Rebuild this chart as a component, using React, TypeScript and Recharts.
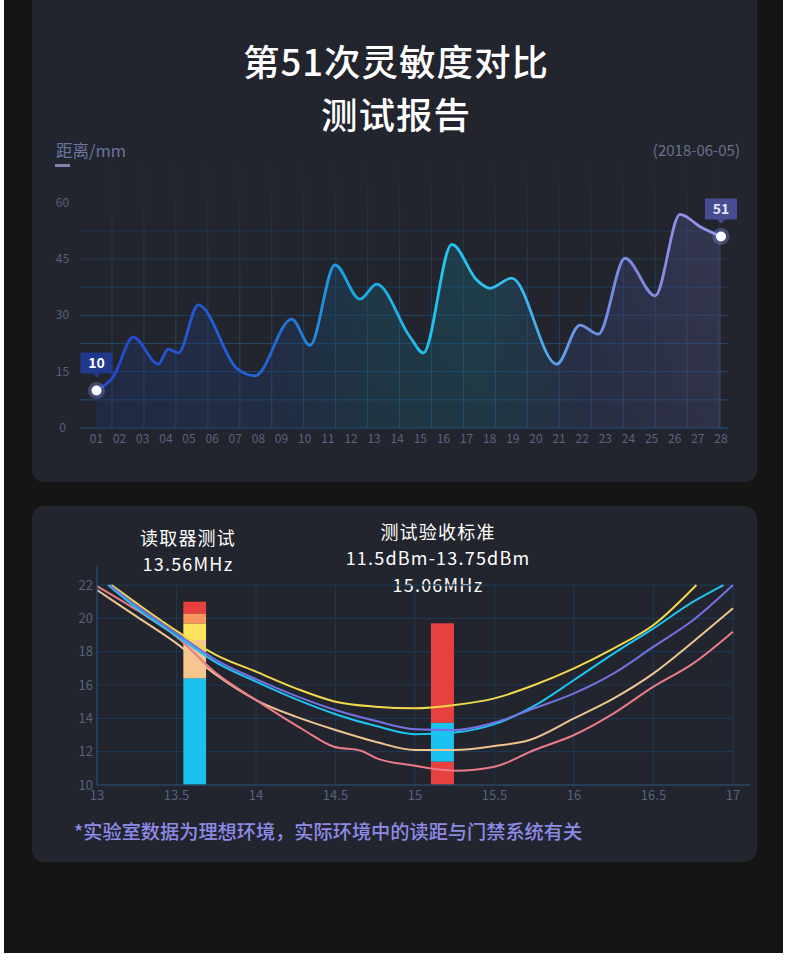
import React from 'react';
import {
  ComposedChart,
  Area,
  Line,
  XAxis,
  YAxis,
  CartesianGrid,
  ReferenceDot,
  ReferenceArea,
  ReferenceLine,
} from 'recharts';

// ---------- Top chart data (distance per test) ----------
const dayTicks = [1, 2, 3, 4, 5, 6, 7, 8, 9, 10, 11, 12, 13, 14, 15, 16, 17, 18, 19, 20, 21, 22, 23, 24, 25, 26, 27, 28];
const dayLabels = ['01', '02', '03', '04', '05', '06', '07', '08', '09', '10', '11', '12', '13', '14', '15', '16', '17', '18', '19', '20', '21', '22', '23', '24', '25', '26', '27', '28'];
const distanceDay = [1, 1.73, 2.59, 3.67, 4.1, 4.54, 5.4, 7.06, 7.85, 9.44, 10.23, 11.31, 12.39, 13.11, 14.55, 15.13, 16.36, 17.44, 18.01, 18.95, 20.9, 21.9, 22.7, 23.85, 25.15, 26.23, 27.1, 28];
const distanceMm = [10, 13.7, 24.2, 17, 21, 20, 32.8, 15.9, 13.9, 29, 22, 43.4, 34.3, 38.3, 24.3, 20, 48.9, 39.4, 37.2, 39.9, 17, 27.4, 25, 45.2, 35.2, 56.9, 53.6, 51];
const distanceTicks = [0, 15, 30, 45, 60];
const distanceGridLevels = [0, 7.5, 15, 22.5, 30, 37.5, 45, 52.5];
const distanceMax = 72;
const firstPoint = { day: 1, mm: 10, label: '10' };
const lastPoint = { day: 28, mm: 51, label: '51' };

const distanceData = distanceDay.map((d, i) => ({ day: d, mm: distanceMm[i] }));

// ---------- Bottom chart data (sensitivity curves) ----------
const freqTicks = [13, 13.5, 14, 14.5, 15, 15.5, 16, 16.5, 17];
const dbTicks = [10, 12, 14, 16, 18, 20, 22];

const yellowX = [13.09, 13.25, 13.5, 13.75, 14, 14.25, 14.5, 14.75, 15, 15.25, 15.5, 15.75, 16, 16.25, 16.5, 16.77];
const yellowY = [22.0, 20.9, 19.25, 17.8, 16.8, 15.8, 15.0, 14.7, 14.6, 14.8, 15.2, 16.0, 17.0, 18.2, 19.6, 22.0];

const cyanX = [13.07, 13.25, 13.5, 13.75, 14, 14.25, 14.5, 14.75, 15, 15.25, 15.5, 15.75, 16, 16.25, 16.5, 16.75, 16.94];
const cyanY = [22.0, 20.6, 18.95, 17.35, 16.2, 15.15, 14.25, 13.55, 13.05, 13.15, 13.65, 14.75, 16.3, 17.9, 19.4, 21.0, 22.0];

const purpleX = [13.08, 13.25, 13.5, 13.75, 14, 14.25, 14.5, 14.75, 15, 15.25, 15.5, 15.75, 16, 16.25, 16.5, 16.75, 17];
const purpleY = [22.0, 20.75, 19.1, 17.5, 16.35, 15.35, 14.5, 13.85, 13.35, 13.3, 13.75, 14.6, 15.5, 16.7, 18.3, 19.9, 22.0];

const peachX = [13, 13.25, 13.5, 13.75, 14, 14.25, 14.5, 14.75, 15, 15.25, 15.5, 15.72, 16, 16.25, 16.5, 16.75, 17];
const peachY = [21.7, 20.1, 18.5, 16.6, 15.1, 14.1, 13.3, 12.6, 12.1, 12.1, 12.34, 12.7, 14.0, 15.2, 16.7, 18.6, 20.6];

const pinkX = [13, 13.25, 13.5, 13.75, 14, 14.3, 14.49, 14.66, 14.76, 14.97, 15.25, 15.5, 15.75, 16, 16.25, 16.5, 16.75, 17];
const pinkY = [21.94, 20.5, 18.9, 16.7, 15.1, 13.3, 12.3, 12.06, 11.6, 11.2, 10.86, 11.1, 12.1, 13.0, 14.3, 15.9, 17.3, 19.2];

const readerBarX = [13.543, 13.686];
const readerBarEdges = [10, 16.4, 18.7, 19.7, 20.3, 21.0];
const readerBarColors = ['#1cc2ef', '#f6c690', '#fde35c', '#f7955d', '#e8403e'];

const acceptBarX = [15.1, 15.245];
const acceptBarEdges = [10, 11.4, 13.74, 19.7];
const acceptBarColors = ['#e8403e', '#1cc2ef', '#e8403e'];

const curveSeries = [
  { name: 'yellow', color: '#f2d94b', xs: yellowX, ys: yellowY },
  { name: 'peach', color: '#efc48e', xs: peachX, ys: peachY },
  { name: 'pink', color: '#ec7b8a', xs: pinkX, ys: pinkY },
  { name: 'cyan', color: '#1ec3ef', xs: cyanX, ys: cyanY },
  { name: 'purple', color: '#7272e2', xs: purpleX, ys: purpleY },
];

const FONT = '"Noto Sans CJK SC", "Noto Sans", sans-serif';

const CenteredYTick = (props: any) => {
  const { x, y, payload } = props;
  return (
    <text x={x} y={y} dy={4} textAnchor="middle" fill="#586180" fontSize={12} fontFamily={FONT}>
      {payload.value}
    </text>
  );
};

const ValueTag = (props: any) => {
  const { viewBox, text, fill, color } = props;
  const cx = viewBox.x + viewBox.width / 2;
  const cy = viewBox.y + viewBox.height / 2;
  const w = 32;
  const h = 21;
  const bottom = cy - 17;
  return (
    <g>
      <rect x={cx - w / 2} y={bottom - h} width={w} height={h} fill={fill} rx={1} />
      <path d={`M${cx - 4},${bottom} L${cx + 4},${bottom} L${cx},${bottom + 4} Z`} fill={fill} />
      <text x={cx} y={bottom - h / 2 + 5} textAnchor="middle" fill={color} fontSize={14} fontWeight={600} fontFamily={FONT}>
        {text}
      </text>
    </g>
  );
};

const GlowDot = (props: any) => {
  const { cx, cy } = props;
  return (
    <g>
      <circle cx={cx} cy={cy} r={8.5} fill="#8fa0ff" fillOpacity={0.3} />
      <circle cx={cx} cy={cy} r={5} fill="#ffffff" />
    </g>
  );
};

function DistanceChart() {
  return (
    <ComposedChart
      width={790}
      height={320}
      data={distanceData}
      margin={{ top: 17.6, right: 62, bottom: 2, left: 50 }}
    >
      <defs>
        <linearGradient id="gridFade" gradientUnits="userSpaceOnUse" x1="0" y1="20" x2="0" y2="288">
          <stop offset="0" stopColor="#1d4b74" stopOpacity={0} />
          <stop offset="0.3" stopColor="#1d4b74" stopOpacity={0.45} />
          <stop offset="1" stopColor="#1f5584" stopOpacity={0.95} />
        </linearGradient>
        <linearGradient id="lineGrad" x1="0" y1="0" x2="1" y2="0">
          <stop offset="0" stopColor="#2446d2" />
          <stop offset="0.28" stopColor="#2467d8" />
          <stop offset="0.4" stopColor="#1aa6e2" />
          <stop offset="0.55" stopColor="#22c4f0" />
          <stop offset="0.68" stopColor="#38baee" />
          <stop offset="0.76" stopColor="#6898e6" />
          <stop offset="0.86" stopColor="#7d86e0" />
          <stop offset="1" stopColor="#9d97ee" />
        </linearGradient>
        <linearGradient id="fillGrad" x1="0" y1="0" x2="1" y2="0">
          <stop offset="0" stopColor="#2140a8" stopOpacity={0.4} />
          <stop offset="0.3" stopColor="#1d4fa6" stopOpacity={0.38} />
          <stop offset="0.45" stopColor="#14799e" stopOpacity={0.42} />
          <stop offset="0.62" stopColor="#148aa8" stopOpacity={0.42} />
          <stop offset="0.78" stopColor="#40509c" stopOpacity={0.45} />
          <stop offset="1" stopColor="#6564ad" stopOpacity={0.45} />
        </linearGradient>
        <linearGradient id="shadeGrad" x1="0" y1="0" x2="0" y2="1">
          <stop offset="0" stopColor="#22252d" stopOpacity={0} />
          <stop offset="1" stopColor="#22252d" stopOpacity={0.45} />
        </linearGradient>
      </defs>
      <CartesianGrid
        stroke="url(#gridFade)"
        strokeWidth={1}
        verticalCoordinatesGenerator={({ offset }: any) =>
          Array.from({ length: 20 }, (_, i) => offset.left + 32 + i * 31.95)
        }
        horizontalCoordinatesGenerator={({ offset }: any) =>
          distanceGridLevels.map((v) => offset.top + offset.height * (1 - v / distanceMax))
        }
      />
      <XAxis
        dataKey="day"
        type="number"
        domain={[1, 28]}
        ticks={dayTicks}
        interval={0}
        tickFormatter={(v: number) => dayLabels[v - 1]}
        padding={{ left: 16.5, right: 7 }}
        axisLine={false}
        tickLine={false}
        tickSize={0}
        tickMargin={6}
        height={30}
        tick={{ fill: '#5a6482', fontSize: 12, fontFamily: FONT }}
      />
      <YAxis
        type="number"
        domain={[0, distanceMax]}
        ticks={distanceTicks}
        interval={0}
        axisLine={false}
        tickLine={false}
        tickSize={0}
        tickMargin={17.5}
        width={30}
        tick={<CenteredYTick />}
      />
      <Area type="monotone" dataKey="mm" stroke="none" fill="url(#fillGrad)" isAnimationActive={false} activeDot={false} />
      <Area type="monotone" dataKey="mm" stroke="none" fill="url(#shadeGrad)" isAnimationActive={false} activeDot={false} />
      <Line type="monotone" dataKey="mm" stroke="url(#lineGrad)" strokeWidth={2.8} dot={false} activeDot={false} isAnimationActive={false} />
      <ReferenceDot
        x={firstPoint.day}
        y={firstPoint.mm}
        r={5}
        shape={(p: any) => <GlowDot {...p} />}
        label={<ValueTag text={firstPoint.label} fill="#20398c" color="#ffffff" />}
      />
      <ReferenceDot
        x={lastPoint.day}
        y={lastPoint.mm}
        r={5}
        shape={(p: any) => <GlowDot {...p} />}
        label={<ValueTag text={lastPoint.label} fill="#474d90" color="#e4e4f4" />}
      />
    </ComposedChart>
  );
}

function SensitivityChart() {
  const gridColor = '#1d3753';
  const readerSegs = readerBarColors.map((c, i) => ({ y1: readerBarEdges[i], y2: readerBarEdges[i + 1], color: c }));
  const acceptSegs = acceptBarColors.map((c, i) => ({ y1: acceptBarEdges[i], y2: acceptBarEdges[i + 1], color: c }));
  return (
    <ComposedChart width={790} height={280} margin={{ top: 26.7, right: 40, bottom: 5, left: 57 }}>
      <XAxis
        dataKey="f"
        type="number"
        domain={[13, 17]}
        ticks={freqTicks}
        interval={0}
        padding={{ left: 0, right: 17 }}
        allowDuplicatedCategory={false}
        axisLine={{ stroke: '#27476a', strokeWidth: 1.5 }}
        tickLine={false}
        tickSize={0}
        tickMargin={6}
        height={30}
        tick={{ fill: '#56627f', fontSize: 13, fontFamily: FONT }}
      />
      <YAxis
        type="number"
        domain={[10, 23.1]}
        ticks={dbTicks}
        interval={0}
        axisLine={{ stroke: '#27476a', strokeWidth: 1.5 }}
        tickLine={false}
        tickSize={0}
        tickMargin={4}
        width={40}
        tick={{ fill: '#56627f', fontSize: 13, fontFamily: FONT }}
      />
      {freqTicks.slice(1).map((f) => (
        <ReferenceLine key={'v' + f} segment={[{ x: f, y: 10 }, { x: f, y: 22 }]} stroke={gridColor} strokeWidth={1.2} zIndex={-50} />
      ))}
      {dbTicks.slice(1).map((d) => (
        <ReferenceLine key={'h' + d} segment={[{ x: 13, y: d }, { x: 17, y: d }]} stroke={gridColor} strokeWidth={1.2} zIndex={-50} />
      ))}
      {readerSegs.map((s, i) => (
        <ReferenceArea
          key={'r' + i}
          x1={readerBarX[0]}
          x2={readerBarX[1]}
          y1={s.y1}
          y2={s.y2}
          fill={s.color}
          fillOpacity={1}
          stroke="none"
          zIndex={50}
        />
      ))}
      {acceptSegs.map((s, i) => (
        <ReferenceArea
          key={'a' + i}
          x1={acceptBarX[0]}
          x2={acceptBarX[1]}
          y1={s.y1}
          y2={s.y2}
          fill={s.color}
          fillOpacity={1}
          stroke="none"
          zIndex={50}
        />
      ))}
      {curveSeries.map((s) => (
        <Line
          key={s.name}
          data={s.xs.map((x, i) => ({ f: x, v: s.ys[i] }))}
          dataKey="v"
          type="monotone"
          stroke={s.color}
          strokeWidth={2}
          dot={false}
          activeDot={false}
          isAnimationActive={false}
          zIndex={400}
        />
      ))}
    </ComposedChart>
  );
}

const abs = (style: React.CSSProperties): React.CSSProperties => ({ position: 'absolute', ...style });

const titleLine: React.CSSProperties = {
  left: 32,
  width: 728,
  textAlign: 'center',
  color: '#ffffff',
  fontSize: 36.5,
  letterSpacing: 1,
  lineHeight: '53px',
  fontWeight: 500,
};

const noteLine = (left: number, width: number, top: number): React.CSSProperties => ({
  left,
  width,
  top,
  textAlign: 'center',
  color: '#ffffff',
  fontSize: 18,
  letterSpacing: 1.2,
  lineHeight: '26.3px',
});

export default function App() {
  return (
    <div style={{ position: 'relative', width: 790, height: 974, background: '#ffffff', overflow: 'hidden', fontFamily: FONT }}>
      <style>{`body{margin:0;}`}</style>
      <div style={abs({ left: 4, top: 0, width: 779, height: 953, background: '#151515' })} />
      <div style={abs({ left: 32, top: -14, width: 725, height: 496, background: '#22252d', borderRadius: 12 })} />
      <div style={abs({ left: 32, top: 506, width: 725, height: 356, background: '#22252d', borderRadius: 12 })} />

      <div style={abs({ ...titleLine, top: 34 })}>第51次灵敏度对比</div>
      <div style={abs({ ...titleLine, top: 87 })}>测试报告</div>

      <div style={abs({ left: 56, top: 139, color: '#6a76a0', fontSize: 16.5, lineHeight: '22px' })}>距离/mm</div>
      <div style={abs({ left: 55, top: 164, width: 15, height: 2.5, background: '#7a86ab' })} />
      <div style={abs({ right: 50, top: 140, color: '#69718e', fontSize: 15, lineHeight: '20px' })}>(2018-06-05)</div>

      <div style={abs({ left: 0, top: 140 })}>
        <DistanceChart />
      </div>

      <div style={abs(noteLine(88, 200, 523.5))}>读取器测试</div>
      <div style={abs(noteLine(88, 200, 549.8))}>13.56MHz</div>
      <div style={abs(noteLine(288, 300, 517.5))}>测试验收标准</div>
      <div style={abs(noteLine(288, 300, 544))}>11.5dBm-13.75dBm</div>
      <div style={abs(noteLine(288, 300, 570.5))}>15.06MHz</div>

      <div style={abs({ left: 0, top: 540 })}>
        <SensitivityChart />
      </div>

      <div style={abs({ left: 74, top: 817, color: '#8f8ae8', fontSize: 19.2, lineHeight: '28px', fontWeight: 500 })}>
        *实验室数据为理想环境，实际环境中的读距与门禁系统有关
      </div>
    </div>
  );
}
